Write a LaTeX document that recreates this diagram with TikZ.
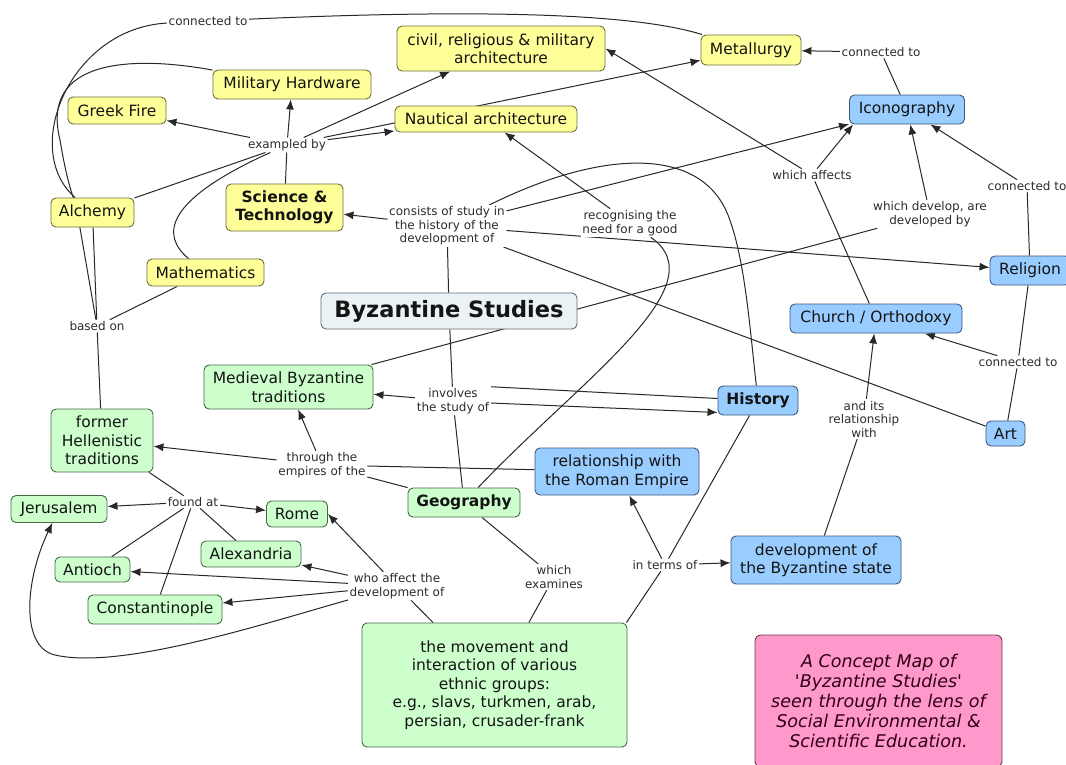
\documentclass[tikz,border=0pt]{standalone}
\usepackage{fontspec}
\setmainfont{DejaVu Sans}
\newfontfamily\pinkfont{DejaVu Sans}[Ligatures=TeXOff]
\usetikzlibrary{arrows.meta}
\definecolor{yelfill}{RGB}{255,255,153}
\definecolor{yeldraw}{RGB}{110,110,60}
\definecolor{grnfill}{RGB}{204,255,204}
\definecolor{grndraw}{RGB}{70,105,70}
\definecolor{blufill}{RGB}{153,204,255}
\definecolor{bludraw}{RGB}{60,90,125}
\definecolor{bsfill}{RGB}{234,242,246}
\definecolor{bsdraw}{RGB}{100,110,115}
\definecolor{pinkfill}{RGB}{255,153,204}
\definecolor{pinkdraw}{RGB}{110,60,80}
\definecolor{pinktxt}{RGB}{50,0,20}
\definecolor{txtc}{RGB}{20,20,20}
\definecolor{lbltxt}{RGB}{45,45,45}
\definecolor{linec}{RGB}{40,40,40}
\pgfdeclarelayer{bg}
\pgfsetlayers{bg,main}
\tikzset{
  cpt/.style={draw, line width=0.9pt, rounded corners=5pt, align=center, inner sep=2pt,
    text=txtc, font=\fontsize{15.5}{18.5}\selectfont},
  yel/.style={cpt, fill=yelfill, draw=yeldraw},
  grn/.style={cpt, fill=grnfill, draw=grndraw},
  blu/.style={cpt, fill=blufill, draw=bludraw},
  bfnode/.style={font=\fontsize{15.5}{18.5}\selectfont\bfseries},
  sz/.style 2 args={minimum width=#1, minimum height=#2},
  lbl/.style={fill=white, inner sep=1.5pt, align=center, text=lbltxt,
    font=\fontsize{12}{13.5}\selectfont},
  ln/.style={draw=linec, line width=1pt},
  ar/.style={ln, -{Latex[length=10pt,width=8pt]}},
}
\begin{document}
\begin{tikzpicture}[x=1pt,y=-1pt]
\useasboundingbox (0,0) rectangle (1066,764);

% ---------- concepts ----------
\node[yel, sz={208}{45}] (civ) at (501,48.5) {civil, religious \& military\\architecture};
\node[yel, sz={100}{30}] (met) at (751,50) {Metallurgy};
\node[yel, sz={158}{29}] (mh) at (292,84.5) {Military Hardware};
\node[yel, sz={98}{27}] (gf) at (117,110.5) {Greek Fire};
\node[yel, sz={182}{26}] (naut) at (486,119) {Nautical architecture};
\node[blu, sz={115}{29}] (ico) at (907,109.5) {Iconography};
\node[yel, bfnode, sz={117}{47}] (st) at (284.5,207.5) {Science \&\\Technology};
\node[yel, sz={83}{29}] (alch) at (92.5,212.5) {Alchemy};
\node[yel, sz={117}{27}] (math) at (205.5,272.5) {Mathematics};
\node[blu, sz={80}{29}] (rel) at (1030,270.5) {Religion};
\node[cpt, fill=bsfill, draw=bsdraw, sz={256}{36},
      font=\fontsize{22.5}{26}\selectfont\bfseries] (bs) at (449,311) {Byzantine Studies};
\node[blu, sz={172}{29}] (church) at (876,318.5) {Church / Orthodoxy};
\node[grn, sz={169}{44}] (med) at (288.5,387) {Medieval Byzantine\\traditions};
\node[blu, bfnode, sz={80}{29}] (hist) at (758,400.5) {History};
\node[blu, sz={39}{25}] (art) at (1005.5,433.5) {Art};
\node[grn, sz={102}{63}] (fh) at (102,440.5) {former\\Hellenistic\\traditions};
\node[blu, sz={164}{47}] (rre) at (617,471.5) {relationship with\\the Roman Empire};
\node[grn, bfnode, sz={112}{29}] (geo) at (464,502.5) {Geography};
\node[grn, sz={96}{27}] (jer) at (59,509) {Jerusalem};
\node[grn, sz={61}{26}] (rome) at (297,514) {Rome};
\node[grn, sz={100}{26}] (alex) at (251,554) {Alexandria};
\node[grn, sz={75}{25}] (ant) at (92.5,569.5) {Antioch};
\node[grn, sz={134}{29}] (const) at (155,609.5) {Constantinople};
\node[blu, sz={170}{48}] (dbs) at (816,560) {development of\\the Byzantine state};
\node[grn, sz={265}{124}] (mov) at (494.5,685) {the movement and\\interaction of various\\ethnic groups:\\e.g., slavs, turkmen, arab,\\persian, crusader-frank};
\node[draw=pinkdraw, fill=pinkfill, line width=0.9pt, rounded corners=6pt, align=center,
      text=pinktxt, sz={247}{132}, font=\pinkfont\itshape\fontsize{17.5}{20}\selectfont]
      (pink) at (878.5,701) {A Concept Map of\\'Byzantine Studies'\\seen through the lens of\\Social Environmental \&\\Scientific Education.};

% ---------- linking phrases ----------
\node[lbl] (ct1) at (208,21) {connected to};
\node[lbl] (exby) at (287,145) {exampled by};
\node[lbl] (ct2) at (881,52) {connected to};
\node[lbl] (waff) at (812,175) {which affects};
\node[lbl] (ct3) at (1027,186) {connected to};
\node[lbl] (cons) at (447,226) {consists of study in\\the history of the\\development of};
\node[lbl] (recog) at (630,223) {recognising the\\need for a good};
\node[lbl] (wdev) at (930,214) {which develop, are\\developed by};
\node[lbl] (basedon) at (97,326) {based on};
\node[lbl] (ct4) at (1018,362) {connected to};
\node[lbl] (inv) at (453,401) {involves\\the study of};
\node[lbl] (air) at (864,419) {and its\\relationship\\with};
\node[lbl] (thr) at (322,465) {through the\\empires of the};
\node[lbl] (fnd) at (193,502) {found at};
\node[lbl] (waf2) at (397,586) {who affect the\\development of};
\node[lbl] (wex) at (554,577) {which\\examines};
\node[lbl] (itm) at (665,565) {in terms of};

% ---------- connectors ----------
\begin{pgfonlayer}{bg}
\fill[white] (0,0) rectangle (1066,764);
\coordinate (mhvia) at (76,205);
\coordinate (jbend) at (55,655);
\coordinate (hbend) at (728,215);
\coordinate (mbend) at (60,140);

\draw[ln] (met) .. controls (640,15) and (500,8) .. (ct1);
\draw[ln] (ct1) .. controls (70,28) and (20,150) .. (alch);
\draw[ln] (mh) .. controls (130,55) and (40,60) .. (mbend) .. controls (65,170) and (70,190) .. (mhvia) -- (basedon);
\draw[ln] (alch) -- (basedon);
\draw[ln] (math) -- (basedon);
\draw[ln] (basedon) -- (fh);

\draw[ln] (st) -- (exby);
\draw[ar] (exby) -- (gf);
\draw[ar] (exby) -- (mh);
\draw[ar] (exby) -- (civ);
\draw[ar] (exby) -- (naut);
\draw[ar] (exby) -- (met);
\draw[ln] (alch) -- (exby);
\draw[ln] (math) .. controls (160,235) and (165,200) .. (exby);

\draw[ln] (bs) -- (cons);
\draw[ar] (cons) -- (st);
\draw[ar] (cons) -- (ico);
\draw[ln] (cons) .. controls (600,150) and (700,145) .. (hbend) .. controls (745,258) and (750,330) .. (hist);
\draw[ar] (cons) -- (rel);
\draw[ln] (cons) -- (art);

\draw[ar] (recog) -- (naut);
\draw[ln] (geo) .. controls (580,380) and (720,285) .. (recog);

\draw[ar] (waff) -- ([xshift=4pt]ico.south west);
\draw[ar] (waff) -- (civ.east);
\draw[ln] (church) -- (waff);

\draw[ar] (wdev) -- (ico);
\draw[ln] (med) -- (wdev);

\draw[ln] (ico) -- (ct2);
\draw[ar] (ct2) -- (met);
\draw[ar] (ct3) -- (ico);
\draw[ln] (rel) -- (ct3);
\draw[ar] (ct4) -- (church);
\draw[ln] (rel) -- (ct4);
\draw[ln] (art) -- (ct4);

\draw[ln] (bs) -- (inv);
\draw[ar] (inv) -- (med);
\draw[ln] (inv.north east) -- ([yshift=2pt]hist.west);
\draw[ar] ([yshift=-2pt]inv.east) -- ([yshift=-12pt]hist.west);
\draw[ln] (inv) -- (geo);

\draw[ar] (thr) -- (fh);
\draw[ar] (thr) -- (med);
\draw[ln] (rre) -- (thr);
\draw[ln] (geo) -- (thr);

\draw[ln] (fh) -- (fnd);
\draw[ar] (fnd) -- (jer);
\draw[ar] (fnd) -- (rome);
\draw[ln] (fnd) -- (alex);
\draw[ln] (fnd) -- (ant);
\draw[ln] (fnd) -- (const);

\draw[ln] (mov) -- (waf2);
\draw[ar] (waf2) -- (rome.east);
\draw[ar] (waf2) -- (alex);
\draw[ar] (waf2) -- (ant);
\draw[ar] (waf2) -- (const);
\draw[ar] (waf2) .. controls (260,625) and (120,670) .. (jbend) .. controls (20,647) and (25,580) .. (jer);

\draw[ln] (geo) -- (wex);
\draw[ln] (wex) -- (mov);

\draw[ar] (itm) -- (rre);
\draw[ar] (itm) -- (dbs);
\draw[ln] (hist) -- (itm);
\draw[ln] (itm) -- ([xshift=-1pt]mov.north east);

\draw[ln] (dbs) -- (air);
\draw[ar] (air) -- (church);
\end{pgfonlayer}
\end{tikzpicture}
\end{document}
